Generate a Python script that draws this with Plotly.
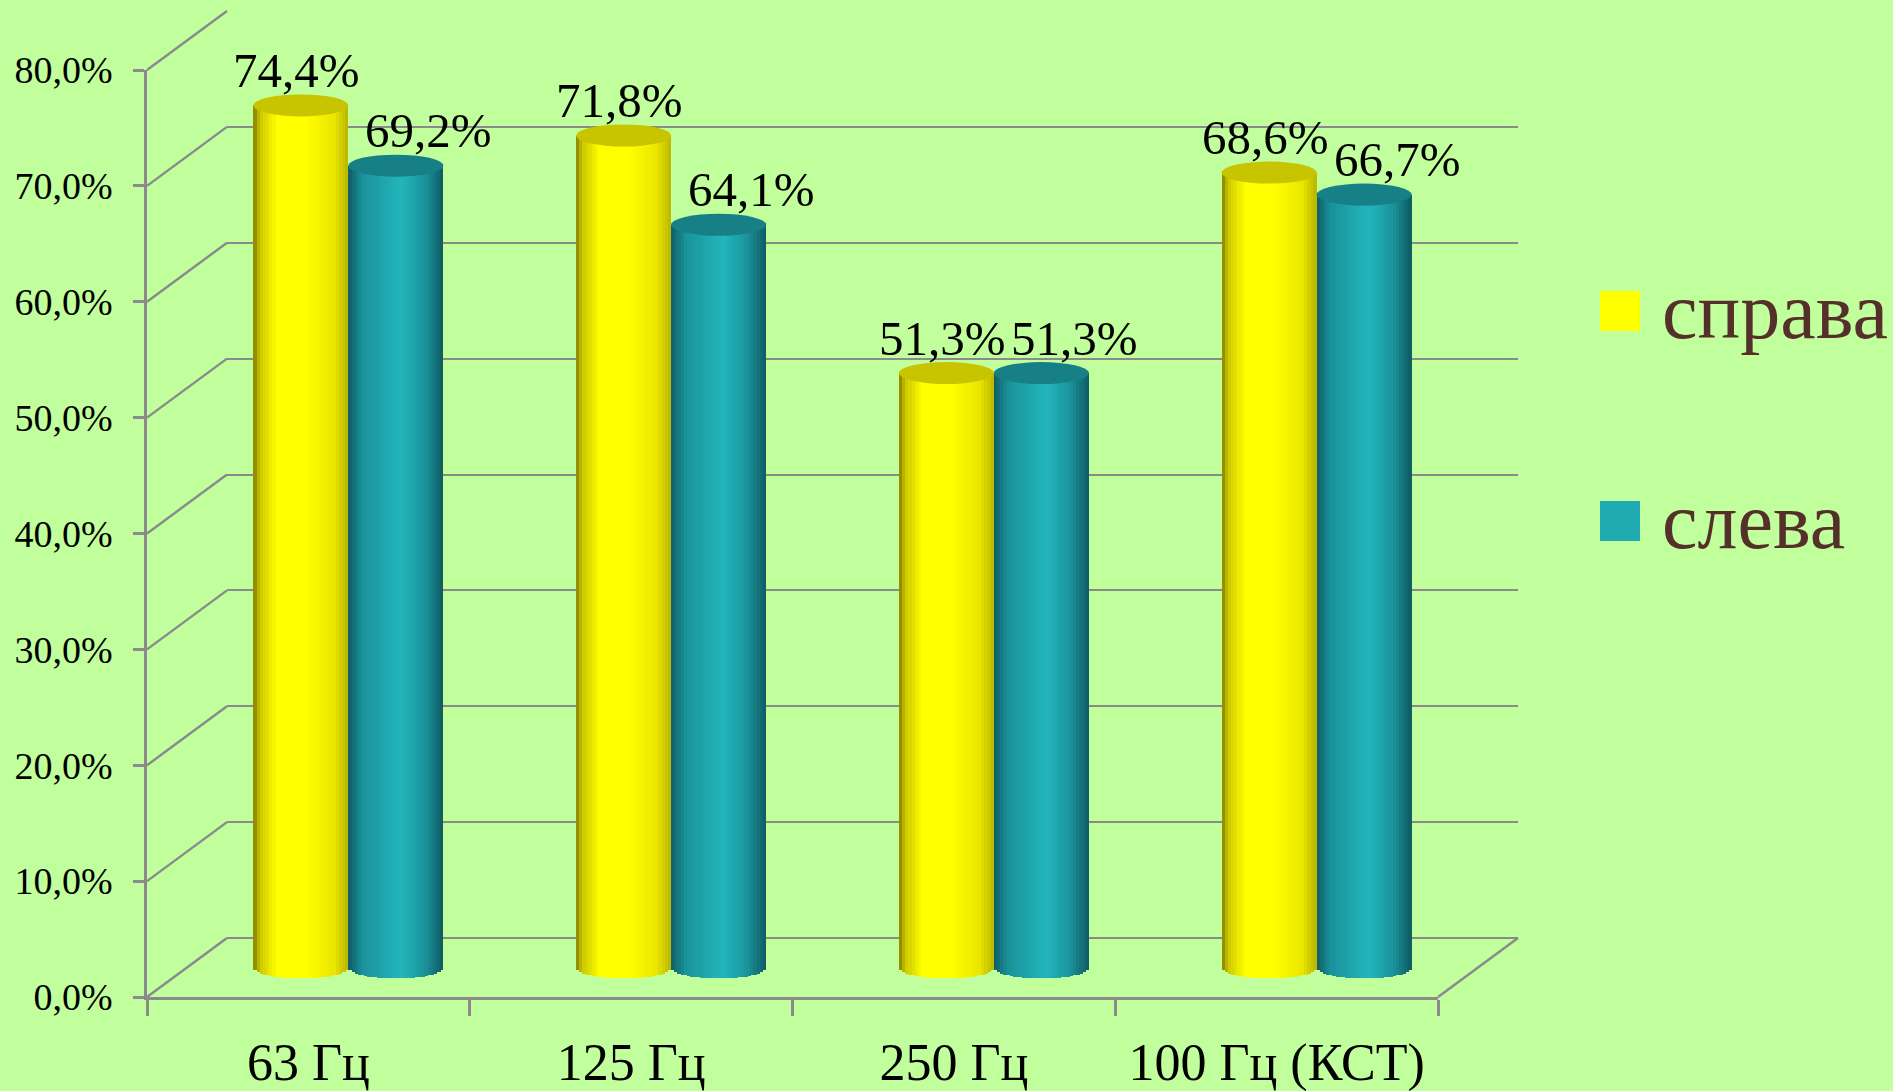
import plotly.graph_objects as go

# ---------------- data ----------------
categories = ["63 Гц", "125 Гц", "250 Гц", "100 Гц (КСТ)"]
series_names = ["справа", "слева"]
right_values = [74.4, 71.8, 51.3, 68.6]
left_values = [69.2, 64.1, 51.3, 66.7]
y_tick_values = [0, 10, 20, 30, 40, 50, 60, 70, 80]
y_tick_labels = ["0,0%", "10,0%", "20,0%", "30,0%", "40,0%", "50,0%", "60,0%", "70,0%", "80,0%"]

# ---------------- geometry (pixels) ----------------
W, H = 1893, 1091
L, R, T, B = 147, 1518, 11, 997          # plot area (front-left-bottom to back-right-top)
DX, DY = 80, 59                           # depth offset of back wall
PW, PH = R - L, B - T
FRONT_W = PW - DX
FRONT_H = PH - DY
PXU = FRONT_H / 80.0                      # px per percent
CAT = FRONT_W / len(categories)           # px per category
BAR_W = 95 / CAT                          # bar width, category units
HH = 11 / PXU                             # ellipse half height, data units

FONT = "Liberation Serif"
BG = "#C1FF9D"
GRID = "#8A8A8A"
CLEAR = "rgba(0,0,0,0)"

def px2x(px):
    return (px - L) / PW

def px2y(py):
    return (B - py) / PH

fig = go.Figure()

# dummy traces so the back wall and front axes subplots exist
fig.add_trace(go.Scatter(x=[0], y=[None], xaxis="x", yaxis="y",
                         mode="markers", showlegend=False, hoverinfo="skip"))
fig.add_trace(go.Scatter(x=categories, y=[None] * len(categories), xaxis="x2", yaxis="y2",
                         mode="markers", showlegend=False, hoverinfo="skip"))

# ---------------- cylinder strips ----------------
def interp(anchors, t):
    for (t0, c0), (t1, c1) in zip(anchors[:-1], anchors[1:]):
        if t0 <= t <= t1:
            f = (t - t0) / (t1 - t0) if t1 > t0 else 0
            return tuple(int(round(a + (b - a) * f)) for a, b in zip(c0, c1))
    return anchors[-1][1]

yellow_shade = [(0.0, (130, 125, 0)), (0.07, (205, 200, 0)), (0.25, (255, 255, 0)),
                (0.55, (255, 255, 0)), (0.85, (234, 230, 0)), (1.0, (185, 180, 0))]
teal_shade = [(0.0, (17, 92, 100)), (0.15, (26, 146, 154)), (0.55, (34, 182, 188)),
              (0.8, (27, 148, 156)), (1.0, (15, 90, 98))]
top_colors = ["#C8C400", "#177F86"]
shades = [yellow_shade, teal_shade]
offsets = [-BAR_W, 0.0]
values_list = [right_values, left_values]

N = 30
sw = BAR_W / N
xs = list(range(len(categories)))
for s in range(2):
    vals = values_list[s]
    for k in range(N):
        t = (k + 0.5) / N
        base = -HH * (1 - (2 * t - 1) ** 2) ** 0.5
        r, g, b = interp(shades[s], t)
        fig.add_trace(go.Bar(
            x=xs, y=[v - base for v in vals], base=base,
            offset=offsets[s] + k * sw,
            width=sw * (1.12 if k < N - 1 else 1.0),
            marker=dict(color=f"rgb({r},{g},{b})", line=dict(width=0)),
            xaxis="x3", yaxis="y3", showlegend=False, hoverinfo="skip",
        ))

shapes = []
annotations = []
label_xshift = [-4, 33]
for s in range(2):
    for i, v in enumerate(values_list[s]):
        shapes.append(dict(type="circle", xref="x3", yref="y3",
                           x0=i + offsets[s], x1=i + offsets[s] + BAR_W,
                           y0=v - HH, y1=v + HH,
                           fillcolor=top_colors[s], line=dict(width=0), layer="above"))
        annotations.append(dict(xref="x3", yref="y3", x=i + offsets[s] + BAR_W / 2, y=v,
                                text=f"{v:.1f}".replace(".", ",") + "%",
                                showarrow=False, xanchor="center", yanchor="middle",
                                xshift=label_xshift[s], yshift=35,
                                font=dict(family=FONT, size=49, color="black")))

# left wall diagonals
for v in y_tick_values:
    shapes.append(dict(type="line", xref="paper", yref="paper",
                       x0=0, y0=v * PXU / PH, x1=DX / PW, y1=(DY + v * PXU) / PH,
                       line=dict(color=GRID, width=2.4), layer="below"))
# floor right edge
shapes.append(dict(type="line", xref="paper", yref="paper",
                   x0=FRONT_W / PW, y0=0, x1=1, y1=DY / PH,
                   line=dict(color=GRID, width=2.4), layer="below"))

# legend
legend_colors = ["#FFFF00", "#20AAB1"]
legend_y = [311, 521]
for s in range(2):
    yc = legend_y[s]
    shapes.append(dict(type="rect", xref="paper", yref="paper",
                       x0=px2x(1600), x1=px2x(1640), y0=px2y(yc + 20), y1=px2y(yc - 20),
                       fillcolor=legend_colors[s], line=dict(width=0)))
    annotations.append(dict(xref="paper", yref="paper", x=px2x(1660), y=px2y(yc),
                            text=series_names[s], showarrow=False,
                            xanchor="left", yanchor="middle",
                            font=dict(family=FONT, size=80, color="#55302A")))

fig.update_layout(
    width=W, height=H,
    margin=dict(l=L, r=W - R, t=T, b=H - B, pad=0, autoexpand=False),
    paper_bgcolor=BG, plot_bgcolor=CLEAR,
    barmode="overlay", bargap=0,
    showlegend=False,
    shapes=shapes, annotations=annotations,
    font=dict(family=FONT, color="black"),
    # back wall (gridlines)
    xaxis=dict(domain=[DX / PW, 1], range=[-0.5, 3.5], showgrid=False, zeroline=False,
               showticklabels=False, showline=False, ticks="", fixedrange=True,
               automargin=False),
    yaxis=dict(domain=[DY / PH, 1], range=[0, 80], anchor="x", tickvals=y_tick_values,
               showgrid=True, gridcolor=GRID, gridwidth=2.4,
               zeroline=True, zerolinecolor=GRID, zerolinewidth=2.4,
               showticklabels=False, showline=False, ticks="", fixedrange=True,
               automargin=False),
    # front axes
    xaxis2=dict(domain=[0, FRONT_W / PW], anchor="y2", type="category",
                categoryorder="array", categoryarray=categories,
                range=[-0.5, 3.5], showgrid=False, zeroline=False,
                showline=True, linecolor=GRID, linewidth=2.5,
                ticks="outside", ticklen=16, tickwidth=2.5, tickcolor=GRID,
                tickson="boundaries", ticklabelstandoff=18,
                tickfont=dict(family=FONT, size=52, color="black"), fixedrange=True,
                automargin=False),
    yaxis2=dict(domain=[0, FRONT_H / PH], anchor="x2", range=[0, 80],
                tickvals=y_tick_values, ticktext=y_tick_labels,
                showgrid=False, zeroline=False,
                showline=True, linecolor=GRID, linewidth=2.5,
                ticks="outside", ticklen=11, tickwidth=2.5, tickcolor=GRID,
                ticklabelstandoff=13,
                tickfont=dict(family=FONT, size=38, color="black"), fixedrange=True,
                automargin=False),
    # mid-depth axes for the bars
    xaxis3=dict(domain=[0, 1], anchor="y3",
                range=[-0.5 - (DX / 2) / CAT, -0.5 + (PW - DX / 2) / CAT],
                visible=False, fixedrange=True, automargin=False),
    yaxis3=dict(domain=[0, 1], anchor="x3",
                range=[-(DY / 2) / PXU, (PH - DY / 2) / PXU],
                visible=False, fixedrange=True, automargin=False),
)

fig.write_html("out.html")
